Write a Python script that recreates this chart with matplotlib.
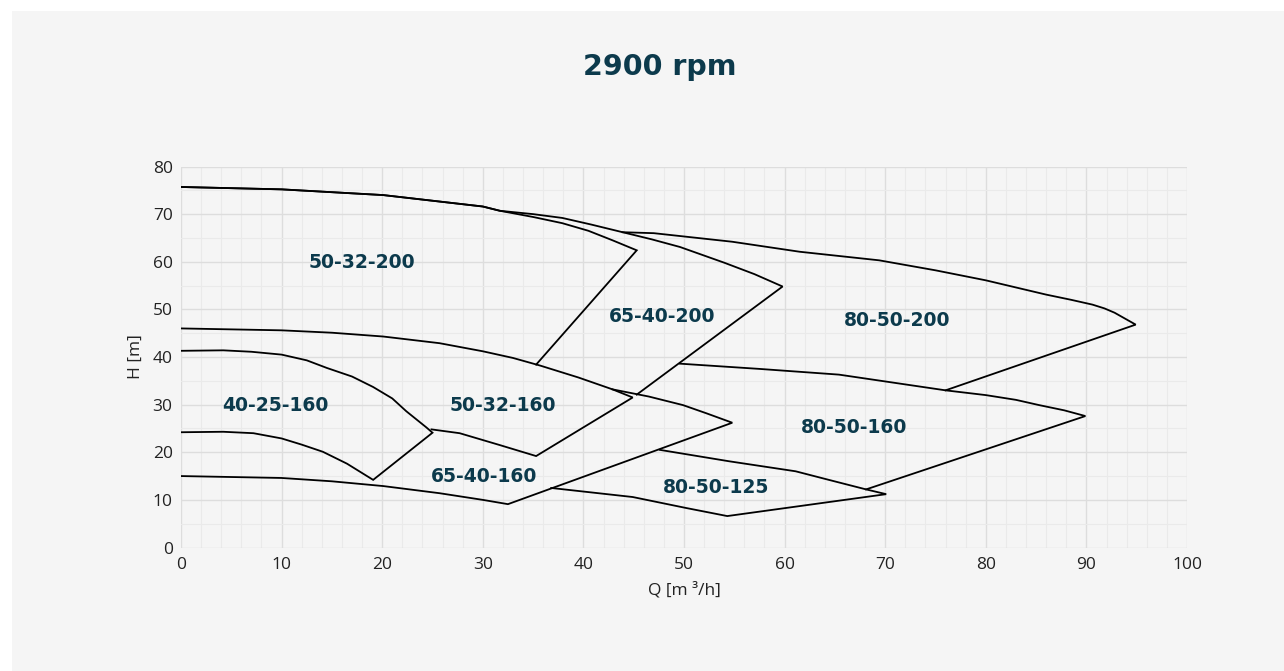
import matplotlib
matplotlib.use("Agg")
import matplotlib.pyplot as plt
from matplotlib.patches import Rectangle
from matplotlib.ticker import MultipleLocator

# ── pump curve outlines, Q [m3/h] / H [m] ───────────────────────────────────
q_50_32_200 = [0, 10, 20.1, 30, 31.7, 35.0, 37.9, 40.5, 42.9, 45.3, 35.3]
h_50_32_200 = [75.7, 75.2, 74.0, 71.6, 70.7, 69.4, 68.1, 66.5, 64.5, 62.4, 38.4]

q_65_40_200 = [0, 10, 20.1, 30, 31.7, 35.0, 37.9, 40.8, 43.9, 46.8, 49.6, 52.0, 54.0, 57.0, 59.8, 45.3]
h_65_40_200 = [75.7, 75.2, 74.0, 71.6, 70.7, 70.0, 69.2, 67.8, 66.2, 64.7, 63.1, 61.3, 59.8, 57.4, 54.8, 32.1]

q_80_50_200 = [43.9, 47.0, 54.8, 61.5, 69.4, 75.0, 80, 86, 88.5, 90.6, 91.8, 92.8, 94.9, 76.0]
h_80_50_200 = [66.2, 66.0, 64.2, 62.1, 60.3, 58.2, 56.1, 53.1, 52.0, 51.0, 50.2, 49.3, 46.8, 33.0]

q_50_32_160 = [0, 10, 15, 20.1, 25.7, 30, 33.0, 35.7, 39.5, 42.9, 44.9, 35.3, 31.7, 27.7, 24.9]
h_50_32_160 = [46.0, 45.6, 45.1, 44.3, 42.9, 41.2, 39.8, 38.2, 35.7, 33.2, 31.5, 19.2, 21.5, 24.0, 24.8]

q_40_25_160 = [0, 4.2, 7.0, 10, 12.5, 14.5, 17.0, 19.1, 21.0, 22.4, 24.4, 25.0,
               19.1, 16.5, 14.1, 12.0, 10, 7.2, 4.2, 0]
h_40_25_160 = [41.3, 41.4, 41.1, 40.5, 39.3, 37.7, 35.9, 33.7, 31.3, 28.6, 25.2, 24.1,
               14.2, 17.6, 20.1, 21.6, 22.9, 24.0, 24.3, 24.2]

q_65_40_160 = [42.9, 46.5, 49.9, 52.2, 54.8, 32.5, 30, 25.7, 20.1, 15, 10, 0]
h_65_40_160 = [33.2, 31.7, 29.9, 28.2, 26.2, 9.1, 10.0, 11.4, 12.9, 13.9, 14.6, 15.0]

q_80_50_160 = [49.6, 57.5, 65.4, 76.0, 80, 83.0, 85.3, 87.8, 89.9, 68.1]
h_80_50_160 = [38.6, 37.5, 36.3, 33.0, 32.0, 31.0, 29.9, 28.8, 27.6, 12.2]

q_80_50_125 = [47.6, 54.5, 61.1, 64.4, 68.1, 70.1, 54.3, 50.2, 44.9, 36.8]
h_80_50_125 = [20.5, 18.1, 16.0, 14.2, 12.2, 11.2, 6.6, 8.3, 10.6, 12.5]

curves = [
    (q_50_32_200, h_50_32_200), (q_65_40_200, h_65_40_200),
    (q_80_50_200, h_80_50_200), (q_50_32_160, h_50_32_160),
    (q_40_25_160, h_40_25_160), (q_65_40_160, h_65_40_160),
    (q_80_50_160, h_80_50_160), (q_80_50_125, h_80_50_125),
]

labels = ["50-32-200", "65-40-200", "80-50-200", "40-25-160",
          "50-32-160", "65-40-160", "80-50-160", "80-50-125"]
label_q = [18.0, 47.8, 71.2, 9.4, 32.0, 30.1, 66.9, 53.2]
label_h = [59.9, 48.5, 47.7, 29.9, 29.9, 15.0, 25.1, 12.6]

TEAL = "#0c3a4c"
PANEL = "#f5f5f5"

fig = plt.figure(figsize=(12.84, 6.71), dpi=100, facecolor="white")
fig.patches.append(Rectangle((12 / 1284, 0), 1, (671 - 11) / 671,
                             transform=fig.transFigure, facecolor=PANEL,
                             edgecolor="none", zorder=-10))

ax = fig.add_axes([181 / 1284, (671 - 547.5) / 671,
                   (1187 - 181) / 1284, (547.5 - 166.5) / 671])
ax.set_facecolor(PANEL)

for q, h in curves:
    ax.plot(q, h, color="black", linewidth=1.3, solid_joinstyle="miter", zorder=3)

for txt, q, h in zip(labels, label_q, label_h):
    ax.text(q, h, txt, ha="center", va="center", fontsize=13.5,
            fontweight="bold", color=TEAL, zorder=4)

ax.set_xlim(0, 100)
ax.set_ylim(0, 80)
ax.xaxis.set_major_locator(MultipleLocator(10))
ax.xaxis.set_minor_locator(MultipleLocator(2))
ax.yaxis.set_major_locator(MultipleLocator(10))
ax.yaxis.set_minor_locator(MultipleLocator(5))
ax.grid(True, which="major", color="#dddddd", linewidth=1.0, zorder=0)
ax.grid(True, which="minor", color="#eaeaea", linewidth=0.8, zorder=0)
ax.set_axisbelow(True)
for s in ax.spines.values():
    s.set_visible(False)
ax.tick_params(which="both", length=0)
ax.tick_params(axis="x", pad=7)
ax.tick_params(axis="y", pad=6)
for lab in ax.get_xticklabels() + ax.get_yticklabels():
    lab.set_fontfamily("Open Sans")
    lab.set_fontsize(12.5)
    lab.set_color("#222222")

ax.set_xlabel("Q [m ³/h]", fontfamily="Open Sans", fontsize=12.5,
              color="#222222", labelpad=6)
ax.set_ylabel("H [m]", fontfamily="Open Sans", fontsize=12.5,
              color="#222222", labelpad=6)

fig.text(660 / 1284, 1 - 67 / 671, "2900 rpm", ha="center", va="center",
         fontsize=20.5, fontweight="bold", color=TEAL)

fig.savefig("out.png", dpi=100, facecolor=fig.get_facecolor())
